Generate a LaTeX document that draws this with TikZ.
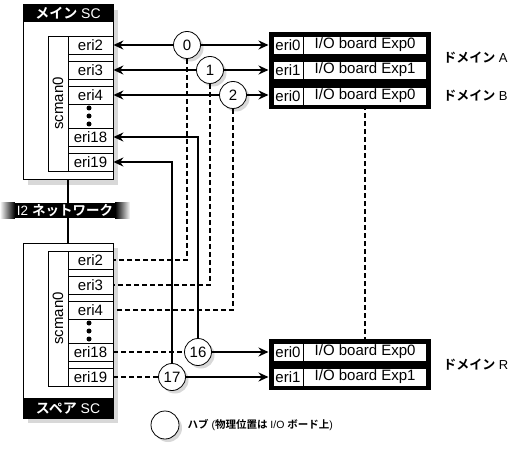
\documentclass[tikz,border=0pt]{standalone}
\usepackage{fontspec}
\setmainfont{Liberation Sans}
\newfontfamily\jp{Noto Sans CJK JP}[BoldFont={* Bold}]
\usetikzlibrary{arrows.meta,positioning,shadows,fit,backgrounds}

\begin{document}
\begin{tikzpicture}[x=1pt, y=-1pt, >={Stealth[length=10pt, width=9pt]},
    font=\fontsize{15}{17}\selectfont,
    wire/.style={line width=1.6pt},
    link/.style={wire, dash pattern=on 5pt off 3pt},
    scbox/.style={rectangle, draw, line width=1pt, fill=white,
      minimum width=90pt, minimum height=175pt,
      drop shadow={shadow xshift=5pt, shadow yshift=-5pt, fill=black!30}},
    schead/.style={rectangle, fill=black, text=white, minimum width=90pt,
      inner sep=0pt, font=\fontsize{14}{15}\selectfont},
    scol/.style={rectangle, draw, line width=0.8pt, rotate=90,
      minimum width=135pt, minimum height=20pt, inner sep=0pt},
    cell/.style={rectangle, draw, line width=0.8pt, minimum width=45pt,
      minimum height=18pt, inner sep=0pt},
    hub/.style={circle, draw, fill=white, line width=0.8pt, minimum size=27pt,
      inner sep=0pt, drop shadow={shadow xshift=3pt, shadow yshift=-3pt, fill=black!30}},
    ecell/.style={rectangle, draw, fill=white, line width=0.6pt, minimum width=30pt,
      minimum height=18pt, inner sep=0pt},
    iocell/.style={ecell, minimum width=123pt},
    iobox/.style={rectangle, fill=black, inner sep=4pt},
    netbar/.style={rectangle, fill=black, text=white, minimum width=100pt,
      minimum height=15pt, inner sep=0pt, font=\fontsize{13.5}{15}\selectfont},
    domlabel/.style={inner sep=0pt, font=\fontsize{13}{15}\selectfont}
    ]
    \useasboundingbox (0,0) rectangle (521,454);

    % system controllers
    \node[scbox] (main)  at (68,92.5)  {};
    \node[scbox] (spare) at (68,330.5) {};
    \node[schead, minimum height=17pt, anchor=north] (mainhd) at (main.north) {{\jp\bfseries メイン} SC};
    \node[schead, minimum height=20pt, anchor=south] (sparehd) at (spare.south) {{\jp\bfseries スペア} SC};
    \node[scol] (tcol) at (58,103.5) {scman0};
    \node[scol] (bcol) at (58,318.5) {scman0};
    \foreach \n/\y in {2/45,3/70,4/95,18/137,19/162} {
      \node[cell] (t\n) at (90.5,\y) {eri\n};
      \node[cell] (b\n) at (90.5,\y+215) {eri\n};
    }
    \foreach \y in {108,116,124} {
      \fill (89,\y) circle (2.5pt);
      \fill (89,\y+215) circle (2.5pt);
    }

    \draw[wire] (main.south) -- (spare.north);
    \node[netbar] (i2net) at (65,210.5) {I2 {\jp\bfseries ネットワーク}};
    \shade[left color=white, right color=black] ([xshift=-15pt]i2net.south west) rectangle (i2net.north west);
    \shade[left color=black, right color=white] (i2net.south east) rectangle ([xshift=15pt]i2net.north east);

    % I/O boards
    \node[ecell] (a0e) at (288,45) {eri0};
    \node[iocell, right=0pt of a0e] (a0io) {I/O board Exp0};
    \node[ecell] (a1e) at (288,70) {eri1};
    \node[iocell, right=0pt of a1e] (a1io) {I/O board Exp1};
    \node[ecell] (b0e) at (288,96) {eri0};
    \node[iocell, right=0pt of b0e] (b0io) {I/O board Exp0};
    \node[ecell] (r0e) at (288,352) {eri0};
    \node[iocell, right=0pt of r0e] (r0io) {I/O board Exp0};
    \node[ecell] (r1e) at (288,377) {eri1};
    \node[iocell, right=0pt of r1e] (r1io) {I/O board Exp1};
    \begin{scope}[on background layer]
      \node[iobox, fit=(a0e)(a1io)] (domA) {};
      \node[iobox, fit=(b0e)(b0io)] (domB) {};
      \node[iobox, fit=(r0e)(r1io)] (domR) {};
    \end{scope}
    \node[domlabel, right=12pt of domA] (labA) {{\jp\bfseries ドメイン} A};
    \node[domlabel, right=12pt of domB] (labB) {{\jp\bfseries ドメイン} B};
    \node[domlabel, right=12pt of domR] (labR) {{\jp\bfseries ドメイン} R};

    % hubs
    \node[hub] (h0)  at (187,45)  {0};
    \node[hub] (h1)  at (210,70)  {1};
    \node[hub] (h2)  at (233,95)  {2};
    \node[hub] (h16) at (198,352) {16};
    \node[hub] (h17) at (172,377) {17};

    \draw[wire, <-] (t2) -- (h0);
    \draw[wire, <-] (t3) -- (h1);
    \draw[wire, <-] (t4) -- (h2);
    \draw[wire, ->] (h0) -- (h0 -| domA.west);
    \draw[wire, ->] (h1) -- (h1 -| domA.west);
    \draw[wire, ->] (h2) -- (h2 -| domB.west);
    \draw[wire, <-] (t18) -| (h16);
    \draw[wire, <-] (t19) -| (h17);
    \draw[link] (h0) |- (b2);
    \draw[link] (h1) |- (b3);
    \draw[link] (h2) |- (b4);
    \draw[link] (b18) -- (h16);
    \draw[link] (b19) -- (h17);
    \draw[wire, ->] (h16) -- (h16 -| domR.west);
    \draw[wire, ->] (h17) -- (h17 -| domR.west);
    \draw[link] (b0io) -- (r0io);

    % legend
    \node[hub, minimum size=28pt] (leg) at (165,425) {};
    \node[right=8pt of leg, inner sep=0pt, font=\fontsize{10.5}{13}\selectfont] (legtxt)
      {{\jp\bfseries ハブ} ({\jp\bfseries 物理位置は} I/O {\jp\bfseries ボード上})};
\end{tikzpicture}
\end{document}
